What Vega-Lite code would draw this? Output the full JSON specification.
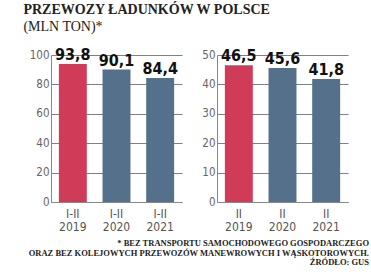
{
  "$schema": "https://vega.github.io/schema/vega-lite/v6.json",
  "background": "white",
  "padding": {"left": 23, "top": 3, "right": 4, "bottom": 2},
  "datasets": {
    "a": [
      {"x": "I-II 2019", "year": "2019", "value": 93.8, "label": "93,8"},
      {"x": "I-II 2020", "year": "2020", "value": 90.1, "label": "90,1"},
      {"x": "I-II 2021", "year": "2021", "value": 84.4, "label": "84,4"}
    ],
    "b": [
      {"x": "II 2019", "year": "2019", "value": 46.5, "label": "46,5"},
      {"x": "II 2020", "year": "2020", "value": 45.6, "label": "45,6"},
      {"x": "II 2021", "year": "2021", "value": 41.8, "label": "41,8"}
    ]
  },
  "title": {
    "text": "PRZEWOZY ŁADUNKÓW W POLSCE",
    "subtitle": "(MLN TON)*",
    "anchor": "start",
    "dx": -5,
    "font": "Liberation Serif",
    "fontSize": 14,
    "fontWeight": "bold",
    "color": "#222",
    "subtitleFont": "Liberation Serif",
    "subtitleFontSize": 14,
    "subtitleColor": "#222",
    "subtitlePadding": 3,
    "offset": 13
  },
  "vconcat": [
    {
      "title": {
        "text": ["* BEZ TRANSPORTU SAMOCHODOWEGO GOSPODARCZEGO", "ORAZ BEZ KOLEJOWYCH PRZEWOZÓW MANEWROWYCH I WĄSKOTOROWYCH.", "ŹRÓDŁO: GUS"],
        "orient": "bottom",
        "anchor": "end",
        "align": "right",
        "dx": 21,
        "font": "Liberation Serif",
        "fontSize": 8.5,
        "fontWeight": "bold",
        "color": "#222",
        "lineHeight": 9.5,
        "offset": 7
      },
      "spacing": 19,
      "hconcat": [
        {
          "data": {"name": "a"},
          "width": 131,
          "height": 147,
          "encoding": {
            "x": {"field": "x", "type": "nominal", "sort": null,
              "scale": {"paddingInner": 0.36, "paddingOuter": 0.18},
              "axis": {"title": null, "labelAngle": 0, "labelExpr": "split(datum.label, ' ')"}},
            "y": {"field": "value", "type": "quantitative",
              "scale": {"domain": [0, 100]},
              "axis": {"title": null, "values": [0, 20, 40, 60, 80, 100]}}
          },
          "layer": [
            {"mark": {"type": "bar"},
             "encoding": {"color": {"field": "year", "type": "nominal", "scale": {"domain": ["2019", "2020", "2021"], "range": ["#d03c58", "#55708a", "#55708a"]}, "legend": null}}},
            {"mark": {"type": "text", "baseline": "bottom", "dy": -1, "font": "DejaVu Sans Condensed", "fontWeight": "bold", "fontSize": 16, "color": "#111"},
             "encoding": {"text": {"field": "label"}}}
          ]
        },
        {
          "data": {"name": "b"},
          "width": 131,
          "height": 147,
          "encoding": {
            "x": {"field": "x", "type": "nominal", "sort": null,
              "scale": {"paddingInner": 0.36, "paddingOuter": 0.18},
              "axis": {"title": null, "labelAngle": 0, "labelExpr": "split(datum.label, ' ')"}},
            "y": {"field": "value", "type": "quantitative",
              "scale": {"domain": [0, 50]},
              "axis": {"title": null, "values": [0, 10, 20, 30, 40, 50]}}
          },
          "layer": [
            {"mark": {"type": "bar"},
             "encoding": {"color": {"field": "year", "type": "nominal", "scale": {"domain": ["2019", "2020", "2021"], "range": ["#d03c58", "#55708a", "#55708a"]}, "legend": null}}},
            {"mark": {"type": "text", "baseline": "bottom", "dy": -1, "font": "DejaVu Sans Condensed", "fontWeight": "bold", "fontSize": 16, "color": "#111"},
             "encoding": {"text": {"field": "label"}}}
          ]
        }
      ]
    }
  ],
  "resolve": {"scale": {"color": "independent"}},
  "config": {
    "view": {"stroke": null},
    "axis": {
      "labelFont": "DejaVu Sans Condensed",
      "labelColor": "#666",
      "labelFontSize": 11.5,
      "domainColor": "#888",
      "ticks": false,
      "gridColor": "#808080",
      "gridOpacity": 1,
      "gridWidth": 1
    },
    "axisY": {"grid": true, "labelPadding": 2},
    "axisX": {"grid": false, "labelPadding": 6, "labelLineHeight": 13, "labelFontSize": 12, "labelColor": "#555"}
  }
}
